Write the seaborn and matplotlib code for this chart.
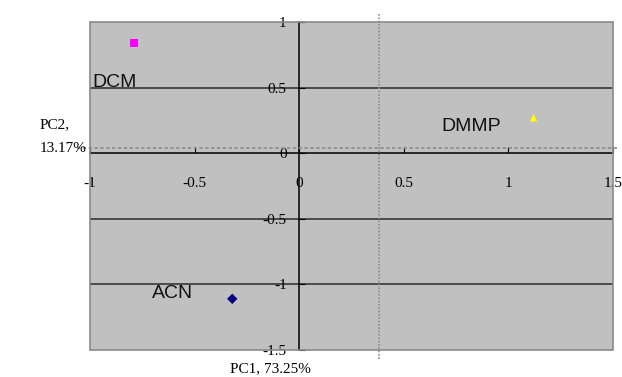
import matplotlib
matplotlib.use("Agg")
import matplotlib.pyplot as plt
import seaborn as sns
import pandas as pd
from matplotlib.patches import Rectangle

# Data
solvents = ["DCM", "DMMP", "ACN"]
pc1 = [-0.79, 1.12, -0.32]
pc2 = [0.84, 0.27, -1.11]
colors = ["#ff00ff", "#ffff00", "#000080"]
markers = ["s", "^", "D"]
x_ticks = [-1, -0.5, 0, 0.5, 1, 1.5]
x_tick_labels = ["-1", "-0.5", "0", "0.5", "1", "1.5"]
y_ticks = [-1.5, -1, -0.5, 0, 0.5, 1]
y_tick_labels = ["-1.5", "-1", "-0.5", "0", "0.5", "1"]

df = pd.DataFrame({"PC1": pc1, "PC2": pc2, "solvent": solvents})

plt.rcParams["font.family"] = ["Liberation Serif", "DejaVu Serif"]

fig = plt.figure(figsize=(6.22, 3.77), dpi=100)
ax = fig.add_axes([90/622, 27/377, 523/622, 328/377])
ax.set_facecolor("#c0c0c0")

ax.set_xlim(-1, 1.5)
ax.set_ylim(-1.5, 1)

# horizontal gridlines
for yv in [0.5, -0.5, -1]:
    ax.axhline(yv, color="#2a2a2a", lw=1.1, zorder=1)

sns.scatterplot(data=df, x="PC1", y="PC2", hue="solvent", style="solvent",
                palette=dict(zip(solvents, colors)),
                markers=dict(zip(solvents, markers)),
                s=28, linewidth=0, legend=False, ax=ax, zorder=5)

# labels with offsets (points) from each marker
offsets = {"DCM": (-30, -28.5), "DMMP": (-66, -6), "ACN": (-58, 4)}
for name, x, y in zip(solvents, pc1, pc2):
    ax.annotate(name, (x, y), xytext=offsets[name], textcoords="offset points",
                ha="left", va="center", fontsize=14,
                family=["Liberation Sans", "DejaVu Sans"], color="#111111")

# axes through zero
for side in ["top", "right"]:
    ax.spines[side].set_visible(False)
ax.spines["left"].set_position(("data", 0))
ax.spines["bottom"].set_position(("data", 0))
ax.spines["left"].set_color("black")
ax.spines["bottom"].set_color("black")
ax.spines["left"].set_linewidth(1.1)
ax.spines["bottom"].set_linewidth(1.1)

ax.set_xticks(x_ticks)
ax.set_xticklabels(x_tick_labels)
ax.set_yticks(y_ticks)
ax.set_yticklabels(y_tick_labels)
ax.tick_params(axis="x", direction="in", length=4, pad=17, labelsize=11, color="black")
ax.tick_params(axis="y", direction="in", length=4, pad=9, labelsize=11, color="black")
for lab in ax.get_yticklabels():
    lab.set_verticalalignment("center_baseline")
ax.set_xlabel("")
ax.set_ylabel("")

# plot area border
ax.add_patch(Rectangle((0, 0), 1, 1, transform=ax.transAxes, fill=False,
                       edgecolor="#8a8a8a", lw=1.2, zorder=6, clip_on=False))

# dotted guide lines
ax.plot([0.38, 0.38], [-1.57, 1.07], color="#8c8c8c", lw=1.2, ls=(0, (1, 1)),
        clip_on=False, zorder=7)
ax.plot([-1.06, 1.52], [0.04, 0.04], color="#8c8c8c", lw=1.2, ls=(0, (2, 1.5)),
        clip_on=False, zorder=7)

# axis titles
fig.text(40/622, 1 - 125/377, "PC2,", fontsize=11, ha="left", va="center")
fig.text(40/622, 1 - 149/377, "13.17%", fontsize=11, ha="left", va="center")
fig.text(270/622, 1 - 369/377, "PC1, 73.25%", fontsize=11, ha="center", va="center")

fig.savefig("out.png", dpi=100)
